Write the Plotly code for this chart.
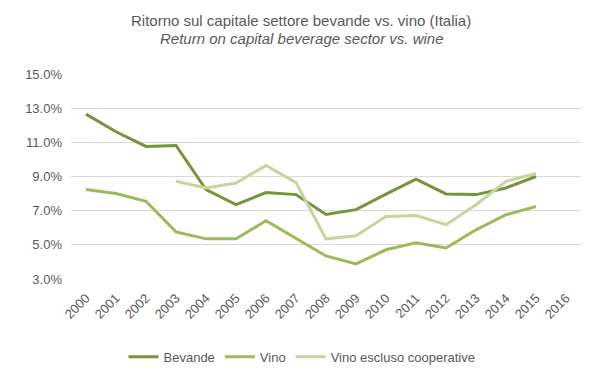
import plotly.graph_objects as go

years = [str(y) for y in range(2000, 2017)]
bevande = [12.65, 11.62, 10.76, 10.82, 8.24, 7.35, 8.06, 7.94, 6.78, 7.06, 7.97, 8.84, 7.98, 7.94, 8.33, 9.00, None]
vino = [8.24, 8.00, 7.55, 5.76, 5.35, 5.35, 6.41, 5.38, 4.35, 3.88, 4.71, 5.12, 4.82, 5.88, 6.76, 7.24, None]
vino_escl = [None, None, None, 8.72, 8.33, 8.62, 9.65, 8.64, 5.35, 5.53, 6.66, 6.72, 6.18, 7.35, 8.72, 9.18, None]

series_names = ["Bevande", "Vino", "Vino escluso cooperative"]
colors = ["#77933C", "#9BBB59", "#C3D69B"]
title_it = "Ritorno sul capitale settore bevande vs. vino (Italia)"
title_en = "Return on capital beverage sector vs. wine"

FONT = "Liberation Sans, Arial, sans-serif"
GRAY = "#595959"

fig = go.Figure()
for name, vals, col in zip(series_names, [bevande, vino, vino_escl], colors):
    fig.add_trace(go.Scatter(
        x=years, y=[v / 100 if v is not None else None for v in vals],
        mode="lines", name=name,
        line=dict(color=col, width=3),
        connectgaps=False,
    ))

fig.add_annotation(text=title_it, xref="paper", yref="paper", x=0.451, y=1.263,
                   xanchor="center", yanchor="middle", showarrow=False,
                   font=dict(family=FONT, size=15, color=GRAY))
fig.add_annotation(text="<i>" + title_en + "</i>", xref="paper", yref="paper", x=0.451, y=1.171,
                   xanchor="center", yanchor="middle", showarrow=False,
                   font=dict(family=FONT, size=15, color=GRAY))

# page body has an 8px margin; the figure is sized/offset to compensate
fig.update_layout(
    width=583, height=362,
    margin=dict(l=63, r=10, t=66, b=91, autoexpand=False),
    paper_bgcolor="white", plot_bgcolor="white",
    font=dict(family=FONT, color=GRAY, size=13),
    showlegend=True,
    legend=dict(
        orientation="h", x=0.453, xanchor="center", y=-0.38, yanchor="middle",
        font=dict(family=FONT, size=13, color=GRAY),
        itemwidth=30,
    ),
    xaxis=dict(
        type="category", range=[-0.5, 16.5], tickangle=-45,
        showgrid=False, showline=False, ticks="", automargin=False,
        ticklabelstandoff=8,
        tickfont=dict(family=FONT, size=13, color=GRAY),
    ),
    yaxis=dict(
        range=[0.03, 0.15], dtick=0.02, tick0=0.03, tickformat=".1%",
        showgrid=True, gridcolor="#D9D9D9", gridwidth=1,
        zeroline=False, showline=False, ticks="", automargin=False,
        ticklabelstandoff=8,
        tickfont=dict(family=FONT, size=13, color=GRAY),
    ),
)

fig.write_html("out.html")
